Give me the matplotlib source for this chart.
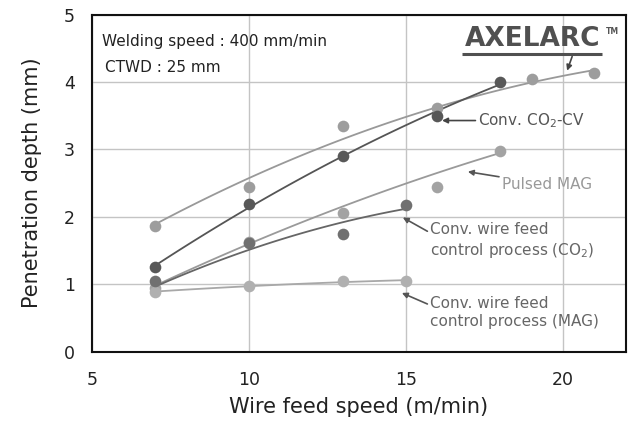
import numpy as np
import matplotlib
matplotlib.use("Agg")
import matplotlib.pyplot as plt

plt.rcParams['font.family'] = ['DejaVu Sans']

# measured points (wire feed speed m/min, penetration mm)
wfs_axel  = [7, 10, 13, 16, 19, 21]
pen_axel  = [1.86, 2.44, 3.35, 3.62, 4.04, 4.13]
wfs_cv    = [7, 10, 13, 16, 18]
pen_cv    = [1.25, 2.19, 2.90, 3.49, 4.00]
wfs_pmag  = [7, 10, 13, 16, 18]
pen_pmag  = [0.95, 1.62, 2.06, 2.45, 2.98]
wfs_wfco2 = [7, 10, 13, 15]
pen_wfco2 = [1.04, 1.61, 1.75, 2.17]
wfs_wfmag = [7, 10, 13, 15]
pen_wfmag = [0.89, 0.97, 1.04, 1.04]

# trend curves, at the same speeds
trend_axel  = [1.86, 2.62, 3.16, 3.60, 3.98, 4.20]
trend_cv    = [1.25, 2.18, 2.90, 3.52, 4.00]
trend_pmag  = [0.96, 1.63, 2.15, 2.62, 2.97]
trend_wfco2 = [0.96, 1.51, 1.92, 2.12]
trend_wfmag = [0.89, 0.97, 1.03, 1.06]

series = [
    # x, points, trend, point colour, line colour
    (wfs_pmag, pen_pmag, trend_pmag, '#a3a3a3', '#9a9a9a'),
    (wfs_wfmag, pen_wfmag, trend_wfmag, '#b0b0b0', '#a8a8a8'),
    (wfs_wfco2, pen_wfco2, trend_wfco2, '#707070', '#666666'),
    (wfs_axel, pen_axel, trend_axel, '#9d9d9d', '#999999'),
    (wfs_cv, pen_cv, trend_cv, '#585858', '#555555'),
]

fig = plt.figure(figsize=(6.29, 4.23), dpi=100)
ax = fig.add_axes([0.146, 0.169, 0.849, 0.796])

for x, y, tr, pc, lc in series:
    coef = np.polyfit(x, tr, 2)
    xs = np.linspace(min(x), max(x), 100)
    ax.plot(xs, np.polyval(coef, xs), color=lc, lw=1.3, zorder=3)
    ax.plot(x, y, 'o', color=pc, ms=8.4, mec='none', zorder=4)

ax.set_xlim(5, 22)
ax.set_ylim(0, 5)
ax.set_xticks([5, 10, 15, 20])
ax.set_yticks([0, 1, 2, 3, 4, 5])
ax.grid(True, color='#c4c4c4', lw=1)
ax.set_axisbelow(True)
ax.tick_params(length=0, labelsize=12.5, colors='#222222')
ax.tick_params(axis='y', pad=12)
ax.tick_params(axis='x', pad=14)
for s in ax.spines.values():
    s.set_linewidth(1.5)
    s.set_color('#111111')

ax.set_xlabel('Wire feed speed (m/min)', fontsize=15, labelpad=6, color='#222222')
ax.set_ylabel('Penetration depth (mm)', fontsize=15, labelpad=16, color='#222222')

ax.text(0.019, 0.92, 'Welding speed : 400 mm/min', transform=ax.transAxes,
        fontsize=11, va='center', color='#222222')
ax.text(0.024, 0.843, 'CTWD : 25 mm', transform=ax.transAxes,
        fontsize=11, va='center', color='#222222')

# logo
ax.text(0.826, 0.927, 'AXELARC', transform=ax.transAxes, fontsize=19,
        fontweight='bold', ha='center', va='center', color='#505050')
ax.text(0.975, 0.950, 'TM', transform=ax.transAxes, fontsize=5.5,
        fontweight='bold', ha='center', va='center', color='#555555')
ax.plot([0.693, 0.956], [0.884, 0.884], transform=ax.transAxes,
        color='#505050', lw=2.2, solid_capstyle='butt')

arrow = dict(arrowstyle='-|>', lw=1.2, mutation_scale=8, shrinkA=0, shrinkB=0)
ax.annotate('', xy=(20.13, 4.17), xytext=(20.29, 4.38),
            arrowprops=dict(arrow, color='#444444'))
ax.annotate('Conv. CO$_2$-CV', xy=(16.15, 3.43), xytext=(17.3, 3.43),
            fontsize=11, va='center', color='#555555',
            arrowprops=dict(arrow, color='#444444'))
ax.annotate('Pulsed MAG', xy=(16.97, 2.67), xytext=(18.05, 2.48),
            fontsize=11, va='center', color='#999999',
            arrowprops=dict(arrow, color='#555555'))
ax.annotate('Conv. wire feed\ncontrol process (CO$_2$)', xy=(14.9, 1.99),
            xytext=(15.77, 1.64), fontsize=11, va='center', color='#666666',
            linespacing=1.25,
            arrowprops=dict(arrow, color='#555555', relpos=(0, 0.72)))
ax.annotate('Conv. wire feed\ncontrol process (MAG)', xy=(14.87, 0.87),
            xytext=(15.77, 0.58), fontsize=11, va='center', color='#666666',
            linespacing=1.25,
            arrowprops=dict(arrow, color='#555555', relpos=(0, 0.72)))

fig.savefig('out.png', dpi=100)
